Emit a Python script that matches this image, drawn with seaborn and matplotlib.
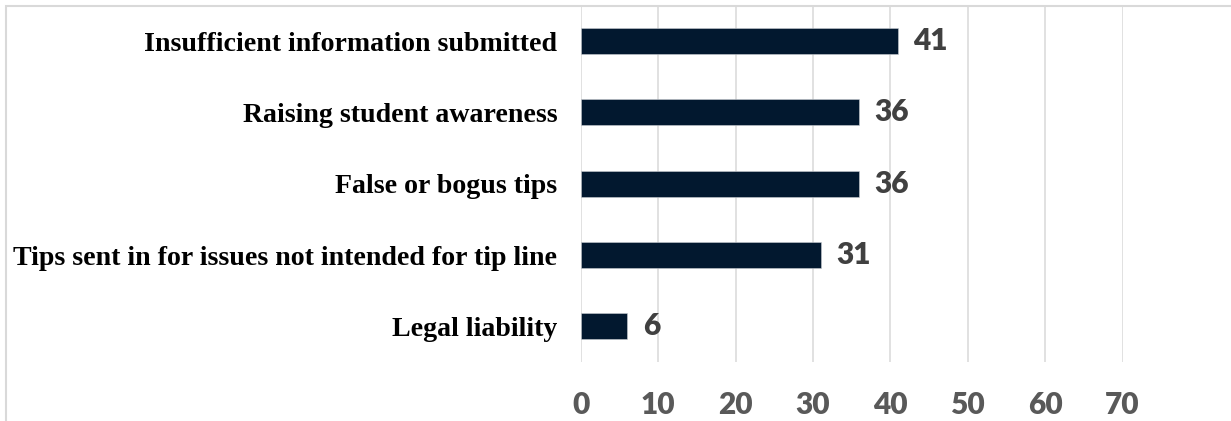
import matplotlib
matplotlib.use("Agg")
import matplotlib.pyplot as plt
from matplotlib.patches import Rectangle
import seaborn as sns
import pandas as pd

# Reported challenges with the tip line (number of responses)
categories = [
    "Insufficient information submitted",
    "Raising student awareness",
    "False or bogus tips",
    "Tips sent in for issues not intended for tip line",
    "Legal liability",
]
counts = [41, 36, 36, 31, 6]
x_ticks = [0, 10, 20, 30, 40, 50, 60, 70]

df = pd.DataFrame({"category": categories, "count": counts})

sns.set_theme(style="white")
plt.rcParams["font.family"] = ["Lato", "DejaVu Sans"]

W, H = 1231, 421
fig = plt.figure(figsize=(W / 100, H / 100), dpi=100)
ax = fig.add_axes([581 / W, 1 - 362 / H, (1122.5 - 581) / W, (362 - 5.5) / H])

bar_color = "#02182f"
sns.barplot(data=df, y="category", x="count", orient="h", color=bar_color,
            width=0.365, saturation=1, edgecolor="#c8ccd2", linewidth=0.4, ax=ax)

ax.set_xlim(0, 70)
ax.set_xticks(x_ticks)
ax.set_xlabel("")
ax.set_ylabel("")

# vertical gridlines
ax.grid(axis="x", color="#d9d9d9", linewidth=1.1)
ax.grid(axis="y", visible=False)
ax.set_axisbelow(True)
for s in ax.spines.values():
    s.set_visible(False)

num_font = ["Lato", "DejaVu Sans"]
ax.tick_params(axis="both", length=0)
ax.tick_params(axis="x", pad=21)
ax.tick_params(axis="y", pad=17)
for lbl in ax.get_xticklabels():
    lbl.set_fontfamily(num_font)
    lbl.set_fontweight("heavy")
    lbl.set_fontsize(21.5)
    lbl.set_color("#595959")
for lbl in ax.get_yticklabels():
    lbl.set_fontfamily(["Liberation Serif", "DejaVu Serif"])
    lbl.set_fontweight("bold")
    lbl.set_fontsize(20.1)
    lbl.set_color("#000000")

# value labels at the end of each bar
for cont in ax.containers:
    ax.bar_label(cont, labels=[str(v) for v in counts], padding=11,
                 fontsize=21.5, fontweight="heavy", color="#404040",
                 fontfamily=num_font)

# outer chart frame
frame = Rectangle((6 / W, -0.2), 1.2, 1.2 - 6 / H, transform=fig.transFigure,
                  fill=False, edgecolor="#d9d9d9", linewidth=1.5, clip_on=False)
fig.patches.append(frame)

fig.savefig("out.png", dpi=100, facecolor="white")
